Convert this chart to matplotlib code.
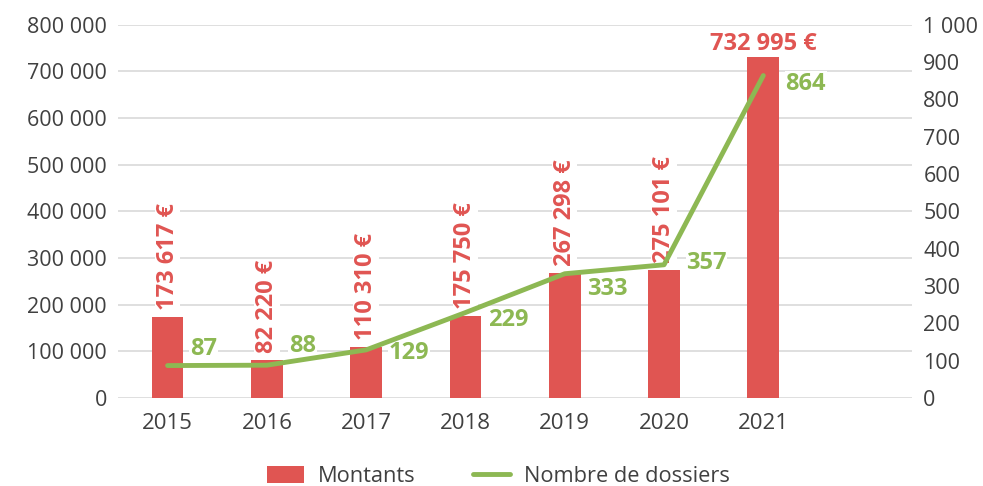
import matplotlib
matplotlib.use("Agg")
import matplotlib.pyplot as plt
from matplotlib.ticker import FuncFormatter, MultipleLocator

plt.rcParams['font.family'] = ['Open Sans', 'DejaVu Sans']

years = ["2015", "2016", "2017", "2018", "2019", "2020", "2021", ""]
montants = [173617, 82220, 110310, 175750, 267298, 275101, 732995]
dossiers = [87, 88, 129, 229, 333, 357, 864]

# styling: vertical offsets (points) of the line labels
line_label_dy = [12, 14, -2, -5, -11, 1, -6]

RED = "#E05552"
GREEN = "#8DB853"
GRID = "#D9D9D9"
TXT = "#404040"

def fmt_space(v, pos=None):
    return f"{int(round(v)):,}".replace(",", " ")

fig = plt.figure(figsize=(9.83, 4.86), dpi=100)
ax = fig.add_axes([0.12, 0.181, 0.808, 0.768])
ax2 = ax.twinx()

x = list(range(len(montants)))
ax.bar(x, montants, width=0.32, color=RED, zorder=2, label="Montants")
ax.set_xlim(-0.5, len(years) - 0.5)
ax.set_ylim(0, 800000)
ax.yaxis.set_major_locator(MultipleLocator(100000))
ax.yaxis.set_major_formatter(FuncFormatter(fmt_space))
ax.set_xticks(range(len(years)))
ax.set_xticklabels(years)
ax.grid(axis='y', color=GRID, lw=1.2, zorder=0)
ax.set_axisbelow(True)
for a in (ax, ax2):
    for s in a.spines.values():
        s.set_visible(False)
    a.tick_params(length=0, labelsize=15.5, colors=TXT, pad=8)
ax.tick_params(axis='x', pad=11, labelsize=16)

ax2.plot(x, dossiers, color=GREEN, lw=3.5, zorder=3, label="Nombre de dossiers", solid_capstyle='round')
ax2.set_ylim(0, 1000)
ax2.yaxis.set_major_locator(MultipleLocator(100))
ax2.yaxis.set_major_formatter(FuncFormatter(fmt_space))
ax2.set_xlim(-0.5, len(years) - 0.5)

bbox = dict(facecolor='white', edgecolor='none', pad=0.5)
for i, v in enumerate(montants):
    lbl = fmt_space(v) + " €"
    if i < len(montants) - 1:
        ax.annotate(lbl, (i, v), xytext=(0, 5), textcoords='offset points',
                    rotation=90, ha='center', va='bottom', fontsize=17,
                    fontweight='bold', color=RED, bbox=bbox, zorder=4)
    else:
        ax.annotate(lbl, (i, v), xytext=(0, 0), textcoords='offset points',
                    ha='center', va='bottom', fontsize=17,
                    fontweight='bold', color=RED, bbox=bbox, zorder=4)

for i, v in enumerate(dossiers):
    ax2.annotate(str(v), (i, v), xytext=(16, line_label_dy[i]), textcoords='offset points',
                 ha='left', va='center', fontsize=17, fontweight='bold',
                 color=GREEN, bbox=bbox, zorder=2)

h1, l1 = ax.get_legend_handles_labels()
h2, l2 = ax2.get_legend_handles_labels()
fig.legend(h1 + h2, l1 + l2, loc='center', bbox_to_anchor=(0.507, 0.02),
           ncol=2, frameon=False, fontsize=15.7, labelcolor=TXT,
           handlelength=1.7, handleheight=0.85, columnspacing=2.6, handletextpad=0.65)

fig.savefig("out.png", dpi=100)
